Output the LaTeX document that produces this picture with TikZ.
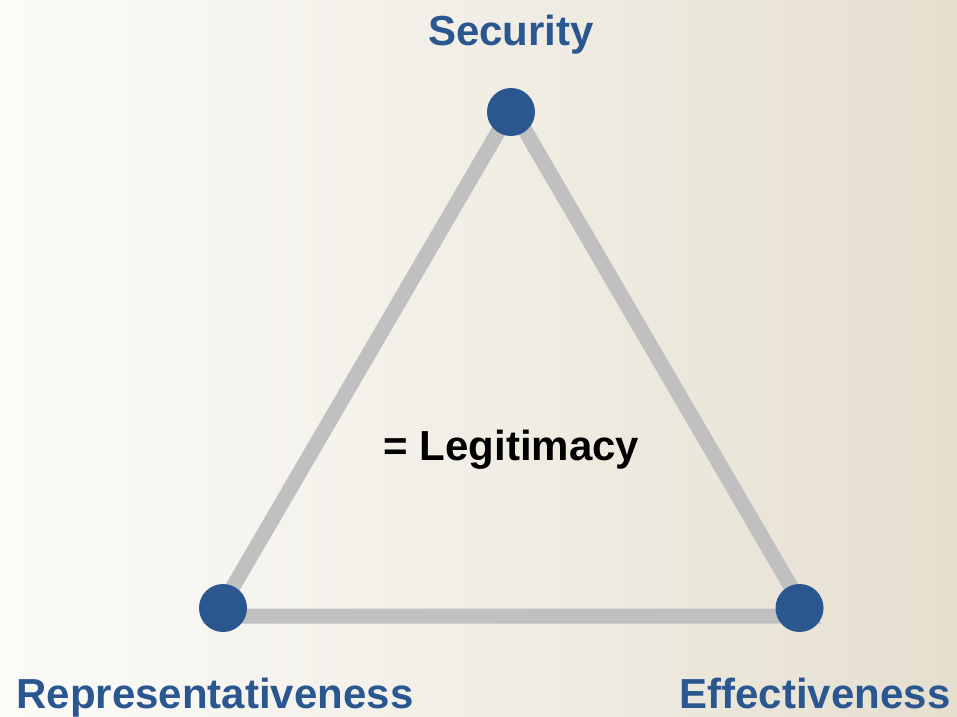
\documentclass[tikz,border=0pt]{standalone}
\usepackage{fontspec}
\setmainfont{Liberation Sans}
\usepackage{tkz-euclide}
\definecolor{dotblue}{RGB}{43,87,145}
\definecolor{edgegray}{RGB}{192,192,192}
\definecolor{bgleft}{RGB}{252,251,248}
\definecolor{bgmid}{RGB}{241,238,230}
\definecolor{bgright}{RGB}{229,223,207}
\tikzset{
    vertex/.style={fill=dotblue},
    lbl/.style={font=\bfseries\fontsize{42}{48}\selectfont, text=dotblue, anchor=base, inner sep=0pt}
}

\begin{document}
\begin{tikzpicture}[x=1pt, y=-1pt]
    \shade[left color=bgleft, right color=bgright, middle color=bgmid] (0,0) rectangle (957,716);
    \useasboundingbox (0,0) rectangle (957,716);
    \tkzDefPoints{216/616/R,808/616/E,512/108/S}
    \tkzDefPoints{223/608/r,799.5/608/e,511/112/s}
    \tkzDrawPolygon[color=edgegray, line width=15pt, line join=miter](R,E,S)
    \fill[vertex] (s) circle (24pt);
    \fill[vertex] (r) circle (24pt);
    \fill[vertex] (e) circle (24pt);
    \node[lbl] (LS) at (511,45) {Security};
    \node[lbl] (LR) at (215,708) {Representativeness};
    \node[lbl] (LE) at (815,708) {Effectiveness};
    \node[lbl, text=black] (LL) at (511.5,460) {= Legitimacy};
\end{tikzpicture}
\end{document}
